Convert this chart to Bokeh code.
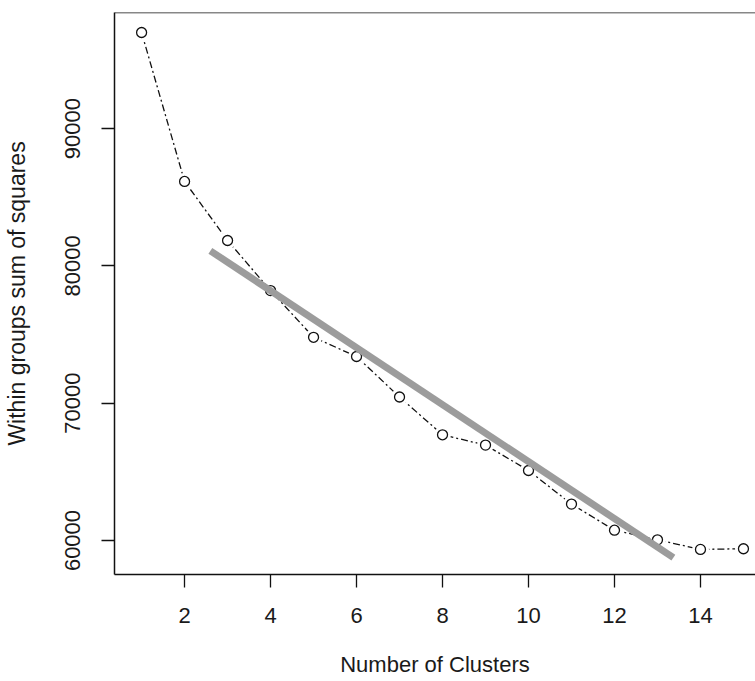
from bokeh.plotting import figure
from bokeh.models import FixedTicker, Span, Range1d
from bokeh.embed import file_html
from bokeh.resources import INLINE

# Data
clusters = [1, 2, 3, 4, 5, 6, 7, 8, 9, 10, 11, 12, 13, 14, 15]
wss = [97000, 86150, 81850, 78200, 74800, 73400, 70450, 67700,
       66950, 65100, 62650, 60750, 60050, 59350, 59400]
trend_x = [2.6, 13.37]
trend_y = [81100, 58750]
x_ticks = [2, 4, 6, 8, 10, 12, 14]
y_ticks = [60000, 70000, 80000, 90000]

FONT = "Liberation Sans"

p = figure(width=755, height=681, output_backend="svg", toolbar_location=None,
           x_range=Range1d(0.37, 15.28), y_range=Range1d(57524, 98456),
           min_border_left=114, min_border_top=12, min_border_right=0,
           min_border_bottom=107)
p.outline_line_color = None
p.grid.grid_line_color = None
p.background_fill_color = "white"
p.border_fill_color = "white"

# data line (type="b" look: line, white masks, open circles)
p.line(clusters, wss, line_color="#111111", line_width=1.3, line_dash="7 3 2 3")
p.scatter(clusters, wss, marker="circle", size=17, fill_color="white",
          line_color=None)
p.scatter(clusters, wss, marker="circle", size=10, fill_color="white",
          line_color="#111111", line_width=1.3)

# trend line
p.line(trend_x, trend_y, line_color="#9c9c9c", line_width=7)

# top frame line
p.add_layout(Span(location=98456, dimension="width", line_color="#111111",
                  line_width=1.5))

for ax in (p.xaxis[0], p.yaxis[0]):
    ax.axis_line_color = "#111111"
    ax.axis_line_width = 1.5
    ax.major_tick_line_color = "#111111"
    ax.major_tick_line_width = 1.3
    ax.major_tick_in = 0
    ax.major_tick_out = 13
    ax.minor_tick_line_color = None
    ax.major_label_text_font = FONT
    ax.major_label_text_color = "#1a1a1a"
    ax.axis_label_text_font = FONT
    ax.axis_label_text_font_style = "normal"
    ax.axis_label_text_color = "#1a1a1a"

p.xaxis.ticker = FixedTicker(ticks=x_ticks)
p.yaxis.ticker = FixedTicker(ticks=y_ticks)
p.xaxis.major_label_text_font_size = "22px"
p.yaxis.major_label_text_font_size = "22px"
p.yaxis.major_label_orientation = "vertical"
p.xaxis.major_label_standoff = 20
p.yaxis.major_label_standoff = 21
p.xaxis.axis_label = "Number of Clusters"
p.yaxis.axis_label = "Within groups sum of squares"
p.xaxis.axis_label_text_font_size = "22px"
p.yaxis.axis_label_text_font_size = "23px"
p.xaxis.axis_label_standoff = 26
p.yaxis.axis_label_standoff = 33

open("out.html", "w").write(file_html(p, INLINE))
